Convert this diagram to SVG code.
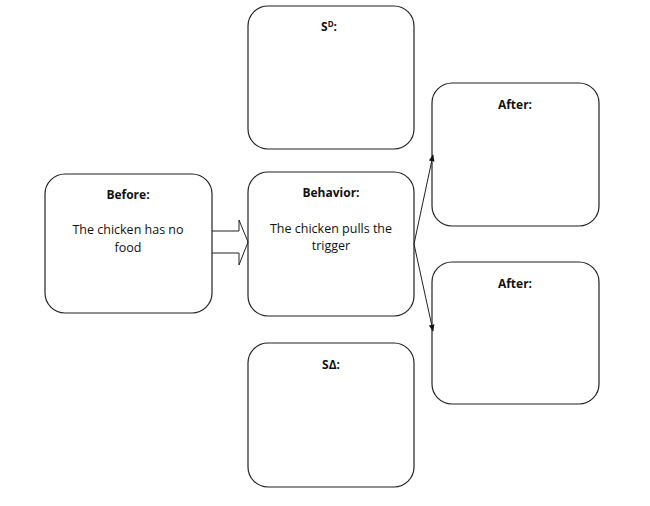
<svg xmlns="http://www.w3.org/2000/svg" width="650" height="506" viewBox="0 0 650 506">
<style>
.b{fill:#fff;stroke:#222;stroke-width:1.2}
text{font-family:"Open Sans","Liberation Sans",sans-serif;font-size:12.5px;fill:#111;text-anchor:middle}
.t{font-weight:bold;font-size:12px}
.c{fill:none;stroke:#222;stroke-width:1}
</style>
<defs><marker id="a" viewBox="0 0 10 10" refX="9" refY="5" markerWidth="7" markerHeight="7" orient="auto"><path d="M0,1 L10,5 L0,9z" fill="#111"/></marker></defs>
<rect width="650" height="506" fill="#fff"/>
<g id="before"><rect class="b" x="45" y="174" width="167" height="139" rx="20"/><text class="t" x="128" y="199">Before:</text><text x="128" y="234">The chicken has no</text><text x="128" y="252">food</text></g>
<g id="behavior"><rect class="b" x="248" y="172" width="166" height="144" rx="20"/><text class="t" x="331" y="197">Behavior:</text><text x="331" y="233">The chicken pulls the</text><text x="331" y="250">trigger</text></g>
<g id="sd"><rect class="b" x="248" y="6" width="166" height="143" rx="20"/><text class="t" x="329" y="31">S<tspan font-size="8" dy="-4">D</tspan><tspan dy="4">:</tspan></text></g>
<g id="sdelta"><rect class="b" x="248" y="343" width="166" height="144" rx="20"/><text class="t" x="331" y="369">SΔ:</text></g>
<g id="after1"><rect class="b" x="432" y="83" width="167" height="143" rx="20"/><text class="t" x="515" y="109">After:</text></g>
<g id="after2"><rect class="b" x="432" y="262" width="167" height="142" rx="20"/><text class="t" x="515" y="288">After:</text></g>
<g id="connectors">
<path class="c" d="M212,231 H239 V220 L248,242 L239,265 V253 H212" fill="#fff"/>
<line class="c" x1="414" y1="244" x2="433" y2="155" marker-end="url(#a)"/>
<line class="c" x1="414" y1="244" x2="433" y2="331" marker-end="url(#a)"/>
</g>
</svg>
